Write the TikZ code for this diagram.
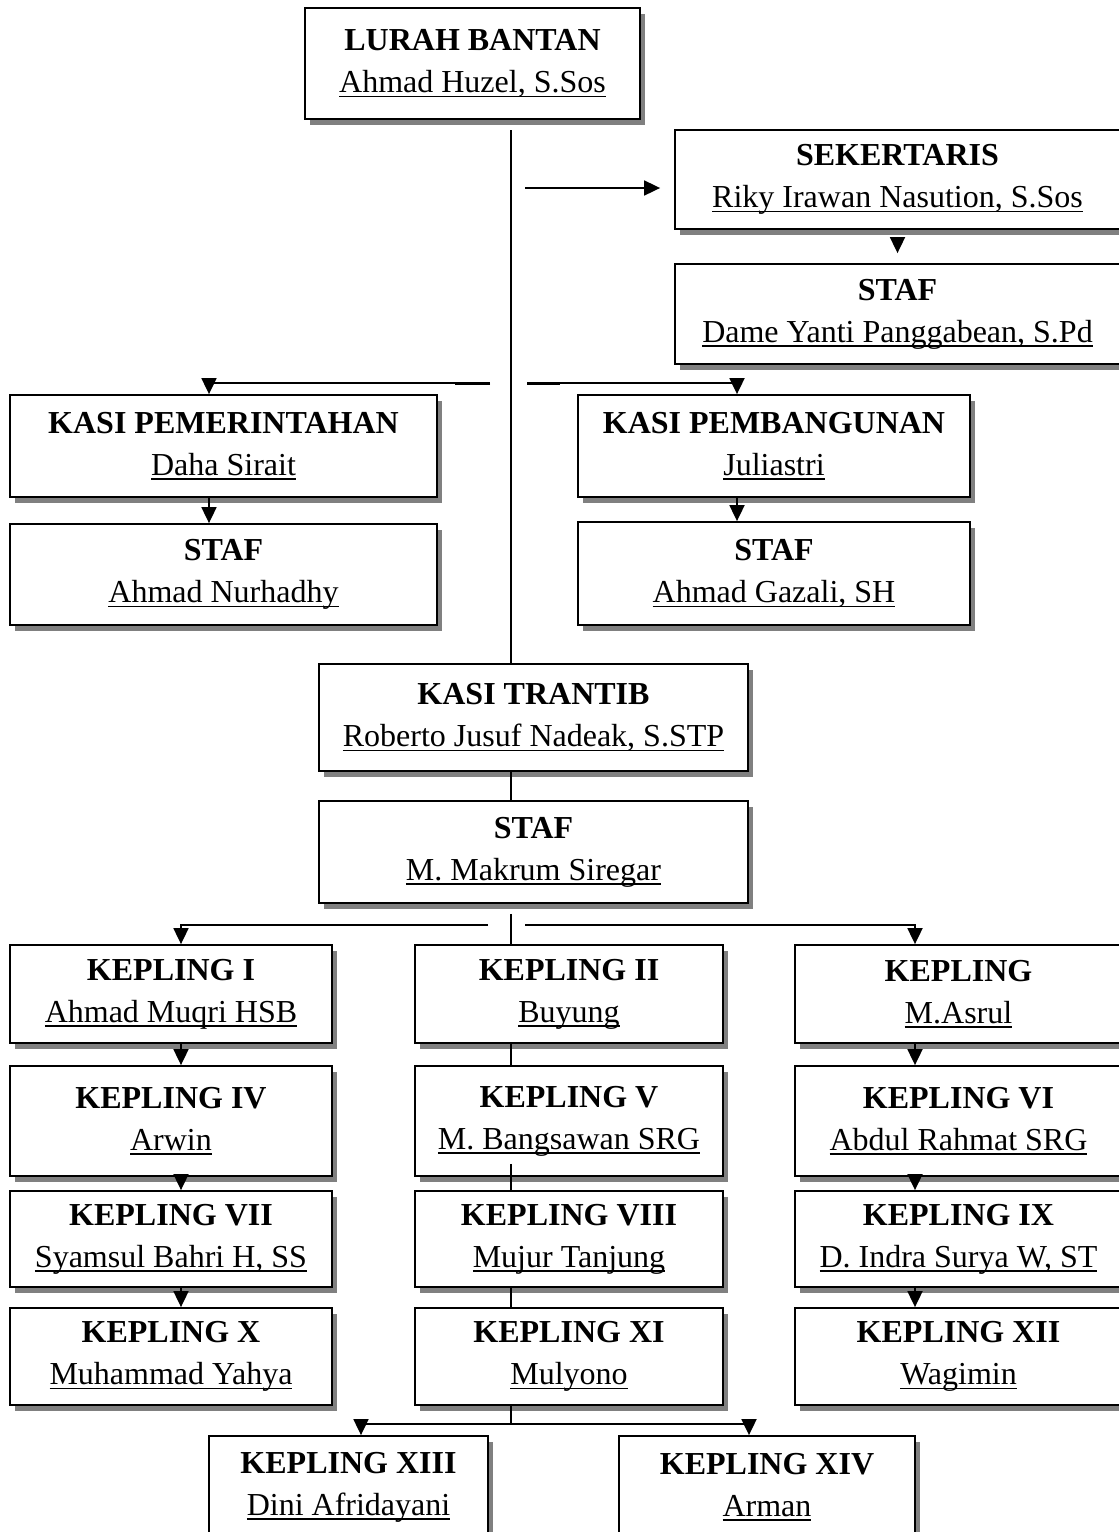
\documentclass[tikz,border=0pt]{standalone}
\usepackage{fontspec}
\setmainfont{Liberation Serif}
\usetikzlibrary{arrows.meta,shadows}

% underlined name with a thick rule
\newcommand{\nameline}[1]{\setbox0=\hbox{#1}\rlap{\rule[-4.5pt]{\wd0}{1.6pt}}\box0}
\newcommand{\jabatan}[2]{\textbf{#1}\\\nameline{#2}}

\tikzset{
  orgbox/.style={draw, line width=1.8pt, fill=white, align=center, inner sep=0pt,
    font=\fontsize{32}{42}\selectfont,
    drop shadow={shadow xshift=5pt, shadow yshift=-6pt, fill=gray, opacity=1}},
  link/.style={line width=1.8pt},
  tip/.style={link, -{Triangle[length=16pt,width=15pt]}}
}

\begin{document}
\begin{tikzpicture}[x=1pt,y=-1pt]
    \useasboundingbox (0,0) rectangle (1119,1532);
    \clip (0,0) rectangle (1119,1532);

    % top
    \node[orgbox, minimum width=335, minimum height=111] (lurah) at (472.5,63.5) {\jabatan{LURAH BANTAN}{Ahmad Huzel, S.Sos}};
    \node[orgbox, minimum width=445, minimum height=99] (sek) at (897.5,179.5) {\jabatan{SEKERTARIS}{Riky Irawan Nasution, S.Sos}};
    \node[orgbox, minimum width=445, minimum height=100] (stafsek) at (897.5,314) {\jabatan{STAF}{Dame Yanti Panggabean, S.Pd}};

    % kasi
    \node[orgbox, minimum width=427, minimum height=102] (pem) at (223.5,446) {\jabatan{KASI PEMERINTAHAN}{Daha Sirait}};
    \node[orgbox, minimum width=392, minimum height=102] (bang) at (774,446) {\jabatan{KASI PEMBANGUNAN}{Juliastri}};
    \node[orgbox, minimum width=427, minimum height=101] (stafpem) at (223.5,574.5) {\jabatan{STAF}{Ahmad Nurhadhy}};
    \node[orgbox, minimum width=392, minimum height=103] (stafbang) at (774,573.5) {\jabatan{STAF}{Ahmad Gazali, SH}};
    \node[orgbox, minimum width=429, minimum height=107] (trantib) at (533.5,717.5) {\jabatan{KASI TRANTIB}{Roberto Jusuf Nadeak, S.STP}};
    \node[orgbox, minimum width=429, minimum height=102] (staftrantib) at (533.5,852) {\jabatan{STAF}{M. Makrum Siregar}};

    % kepling
    \node[orgbox, minimum width=322, minimum height=98] (kep1) at (171,994) {\jabatan{KEPLING I}{Ahmad Muqri HSB}};
    \node[orgbox, minimum width=308, minimum height=98] (kep2) at (569,994) {\jabatan{KEPLING II}{Buyung}};
    \node[orgbox, minimum width=327, minimum height=98] (kep3) at (958.5,994) {\jabatan{KEPLING}{M.Asrul}};
    \node[orgbox, minimum width=322, minimum height=110] (kep4) at (171,1121) {\jabatan{KEPLING IV}{Arwin}};
    \node[orgbox, minimum width=308, minimum height=110] (kep5) at (569,1121) {\jabatan{KEPLING V}{M. Bangsawan SRG}};
    \node[orgbox, minimum width=327, minimum height=110] (kep6) at (958.5,1121) {\jabatan{KEPLING VI}{Abdul Rahmat SRG}};
    \node[orgbox, minimum width=322, minimum height=96] (kep7) at (171,1239) {\jabatan{KEPLING VII}{Syamsul Bahri H, SS}};
    \node[orgbox, minimum width=308, minimum height=96] (kep8) at (569,1239) {\jabatan{KEPLING VIII}{Mujur Tanjung}};
    \node[orgbox, minimum width=327, minimum height=96] (kep9) at (958.5,1239) {\jabatan{KEPLING IX}{D. Indra Surya W, ST}};
    \node[orgbox, minimum width=322, minimum height=97] (kep10) at (171,1356.5) {\jabatan{KEPLING X}{Muhammad Yahya}};
    \node[orgbox, minimum width=308, minimum height=97] (kep11) at (569,1356.5) {\jabatan{KEPLING XI}{Mulyono}};
    \node[orgbox, minimum width=327, minimum height=97] (kep12) at (958.5,1356.5) {\jabatan{KEPLING XII}{Wagimin}};
    \node[orgbox, minimum width=279, minimum height=102] (kep13) at (348.5,1487) {\jabatan{KEPLING XIII}{Dini Afridayani}};
    \node[orgbox, minimum width=296, minimum height=102] (kep14) at (767,1487) {\jabatan{KEPLING XIV}{Arman}};

    % spine and branches
    \coordinate (spine) at (511,130);
    \coordinate (sekfrom) at (525,188);
    \coordinate (branchL) at (490,383);
    \coordinate (branchR) at (527,383);
    \coordinate (forkL) at (488,925);
    \coordinate (forkR) at (525,925);
    \coordinate (forkB) at (511,1424);

    \draw[link] (spine) -- (spine |- trantib.north);
    \draw[tip, shorten >=14pt] (sekfrom) -- (sekfrom -| sek.west);
    \draw[tip, shorten <=8pt, shorten >=10pt] (sek.south) -- (stafsek.north);

    \draw[tip] (branchL) -| ([xshift=-14.5pt]pem.north);
    \draw[tip] (branchR) -| ([xshift=-37pt]bang.north);
    \draw[line width=3pt] (branchL) -- ++(-35,0);
    \draw[line width=3pt] (branchR) -- ++(33,0);
    \draw[tip] ([xshift=-14.5pt]pem.south) -- ([xshift=-14.5pt]stafpem.north);
    \draw[tip] ([xshift=-37pt]bang.south) -- ([xshift=-37pt]stafbang.north);

    \draw[link] (spine |- trantib.south) -- (spine |- staftrantib.north);
    \draw[link] ([yshift=-10pt]spine |- staftrantib.south) -- (spine |- kep2.north);
    \draw[tip] (forkL) -| ([xshift=10pt]kep1.north);
    \draw[tip] (forkR) -| ([xshift=-43.5pt]kep3.north);

    % kepling columns
    \draw[tip] ([xshift=10pt]kep1.south) -- ([xshift=10pt]kep4.north);
    \draw[tip] ([xshift=10pt]kep4.south) -- ([xshift=10pt]kep7.north);
    \draw[tip] ([xshift=10pt]kep7.south) -- ([xshift=10pt]kep10.north);
    \draw[link] (spine |- kep2.south) -- (spine |- kep5.north);
    \draw[link] ([yshift=13pt]spine |- kep5.south) -- (spine |- kep8.north);
    \draw[link] (spine |- kep8.south) -- (spine |- kep11.north);
    \draw[tip] ([xshift=-43.5pt]kep3.south) -- ([xshift=-43.5pt]kep6.north);
    \draw[tip] ([xshift=-43.5pt]kep6.south) -- ([xshift=-43.5pt]kep9.north);
    \draw[tip] ([xshift=-43.5pt]kep9.south) -- ([xshift=-43.5pt]kep12.north);

    \draw[link] (spine |- kep11.south) -- (forkB);
    \draw[tip] (forkB) -| ([xshift=12.5pt]kep13.north);
    \draw[tip] (forkB) -| ([xshift=-18pt]kep14.north);
\end{tikzpicture}
\end{document}
